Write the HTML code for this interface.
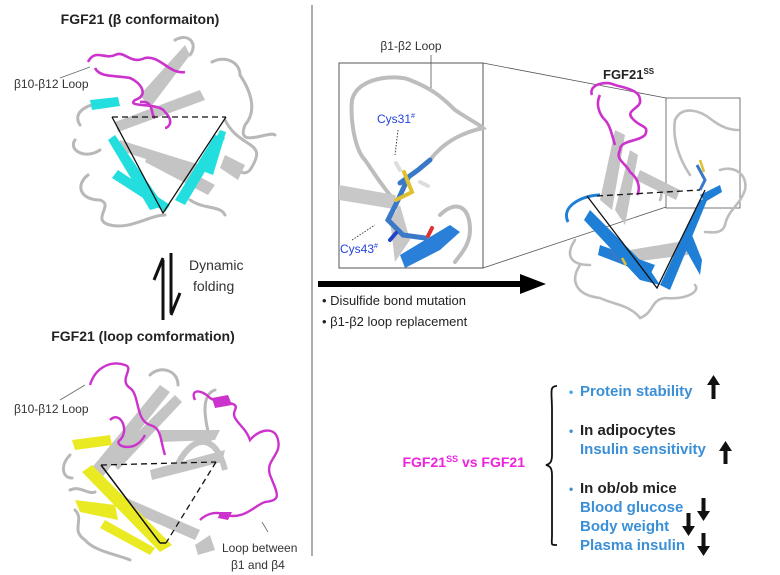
<!DOCTYPE html>
<html><head><meta charset="utf-8"><style>
html,body{margin:0;padding:0;background:#fff;}
svg{display:block;font-family:"Liberation Sans",Arial,sans-serif;}
</style></head><body>
<svg width="780" height="575" viewBox="0 0 780 575" xmlns="http://www.w3.org/2000/svg">
<rect width="780" height="575" fill="#fff"/>
<line x1="312" y1="5" x2="312" y2="556" stroke="#777" stroke-width="1.2"/>

<text x="140" y="24" font-size="14" font-weight="bold" text-anchor="middle" fill="#222">FGF21 (β conformaiton)</text>
<g fill="none" stroke="#b8b8b8" stroke-width="3" stroke-linecap="round">
<path d="M80 125 C70 110 95 100 110 105 M75 140 C68 150 85 160 100 150 M88 175 C75 185 80 200 100 200 C115 205 90 220 110 225 C130 230 150 215 165 215"/>
<path d="M175 40 C190 32 198 45 190 55 M212 62 C225 55 240 62 240 75 C250 90 258 110 245 125 C235 150 270 130 275 135 M225 120 C240 150 270 140 250 170 C240 180 235 160 232 170"/>
<path d="M190 200 C205 210 220 205 225 215"/>
</g>
<g fill="#c4c4c4">
<polygon points="140,95 185,45 190,55 150,108"/>
<polygon points="150,150 215,185 208,195 145,162"/>
<polygon points="115,122 200,90 205,100 118,132"/>
<polygon points="120,140 200,165 195,175 118,150"/>
<polygon points="225,155 245,165 238,180 220,168"/>
</g>
<g fill="#22dede">
<polygon points="90,100 118,97 120,106 92,110"/>
<polygon points="115,135 160,200 168,205 150,210 108,140"/>
<polygon points="118,170 170,205 165,212 112,178"/>
<polygon points="175,200 215,135 225,138 185,205"/>
<polygon points="205,160 220,130 226,132 213,175 200,170"/>
</g>
<path d="M88 62 C95 48 105 60 115 55 C125 50 130 65 145 58 C160 55 170 75 185 72 M95 68 C100 78 115 75 130 78 C140 82 150 95 135 100 C125 108 160 102 165 112 C175 122 168 128 165 128 M140 102 C155 100 150 115 155 118" fill="none" stroke="#cc33cc" stroke-width="2.6"/>
<line x1="60" y1="78" x2="90" y2="67" stroke="#666" stroke-width="0.8"/>
<text x="14" y="88" font-size="12" fill="#333">β10-β12 Loop</text>
<line x1="112" y1="117" x2="226" y2="117" stroke="#111" stroke-width="1.3" stroke-dasharray="6,4"/>
<polyline points="112,117 163,213 226,117" fill="none" stroke="#111" stroke-width="1.3"/>

<path d="M163 260 L163 320" stroke="#111" stroke-width="3"/>
<path d="M163 258 L154 280" stroke="#111" stroke-width="3"/>
<path d="M171 253 L171 313" stroke="#111" stroke-width="3"/>
<path d="M171 315 L180 293" stroke="#111" stroke-width="3"/>
<text x="189" y="270" font-size="14" fill="#333">Dynamic</text>
<text x="193" y="291" font-size="14" fill="#333">folding</text>

<text x="143" y="341" font-size="14" font-weight="bold" text-anchor="middle" fill="#222">FGF21 (loop comformation)</text>
<g fill="none" stroke="#b8b8b8" stroke-width="3" stroke-linecap="round">
<path d="M70 455 C60 465 62 478 72 478 M75 510 C85 520 70 530 85 540 C95 552 120 555 130 560"/>
<path d="M150 375 C160 365 178 370 178 385 M215 390 C200 395 205 420 210 440 M70 490 C80 485 88 495 95 492"/>
</g>
<g fill="#c4c4c4">
<polygon points="90,470 160,385 170,392 100,480"/>
<polygon points="110,460 175,395 182,402 118,470"/>
<polygon points="120,495 200,530 195,540 115,505"/>
<polygon points="150,470 225,450 222,462 152,480"/>
<polygon points="160,430 220,430 215,440 160,442"/>
<polygon points="195,545 210,535 215,550 198,555"/>
<path d="M175 470 C190 435 215 430 225 470" fill="none" stroke="#c4c4c4" stroke-width="6"/>
</g>
<g fill="#eaea22">
<polygon points="92,465 172,545 160,552 82,472"/>
<polygon points="72,440 110,435 112,445 75,450"/>
<polygon points="75,500 115,505 118,520 80,512"/>
<polygon points="105,520 155,548 150,555 100,528"/>
</g>
<path d="M90 385 C95 368 110 360 125 365 C135 368 118 380 130 388 C140 395 135 420 150 425 C162 428 160 440 165 455 M110 420 C120 410 130 430 120 440 C112 445 135 455 145 435 M195 400 C190 390 200 388 210 398 C220 405 240 400 235 410 C230 420 245 425 250 440 C258 430 275 425 278 440 C282 455 265 460 270 475 C278 495 282 500 265 502 C255 505 245 520 225 515 C215 510 205 515 200 520" fill="none" stroke="#cc33cc" stroke-width="2.4"/>
<polygon points="212,398 228,395 232,405 215,408" fill="#cc33cc"/>
<polygon points="220,512 232,512 228,520 218,518" fill="#cc33cc"/>
<line x1="60" y1="400" x2="85" y2="385" stroke="#666" stroke-width="0.8"/>
<text x="14" y="413" font-size="12" fill="#333">β10-β12 Loop</text>
<line x1="101" y1="465" x2="216" y2="462" stroke="#111" stroke-width="1.3" stroke-dasharray="6,4"/>
<line x1="216" y1="462" x2="166" y2="543" stroke="#111" stroke-width="1.3" stroke-dasharray="6,4"/>
<line x1="101" y1="465" x2="160" y2="543" stroke="#111" stroke-width="1.5"/>
<line x1="160" y1="543" x2="166" y2="543" stroke="#111" stroke-width="1.5"/>
<line x1="262" y1="522" x2="268" y2="532" stroke="#666" stroke-width="0.8"/>
<text x="222" y="552" font-size="12" fill="#333">Loop between</text>
<text x="231" y="569" font-size="12" fill="#333">β1 and β4</text>

<text x="411" y="50" font-size="12" text-anchor="middle" fill="#333">β1-β2 Loop</text>
<line x1="431" y1="55" x2="431" y2="88" stroke="#555" stroke-width="0.8"/>
<rect x="339" y="63" width="144" height="205" fill="none" stroke="#555" stroke-width="1"/>
<line x1="483" y1="63" x2="666" y2="98" stroke="#555" stroke-width="0.8"/>
<line x1="483" y1="268" x2="666" y2="207" stroke="#555" stroke-width="0.8"/>
<g fill="none" stroke="#bdbdbd" stroke-width="4" stroke-linecap="round">
<path d="M365 160 C355 150 350 120 352 100 C358 75 400 75 410 80 C430 88 440 95 455 110 C470 120 480 125 483 128 C465 132 445 140 430 160"/>
<path d="M365 160 C372 170 378 180 390 195"/>
<path d="M440 215 C455 200 470 205 470 230 C470 245 460 255 455 262"/>
</g>
<polygon points="339,185 395,195 400,210 339,200" fill="#c8c8c8"/>
<polygon points="400,205 410,240 395,262 390,220" fill="#c8c8c8"/>
<polygon points="400,255 450,225 460,232 440,250 405,268" fill="#2a80d8"/>
<g stroke-linecap="round">
<path d="M400 183 L418 170 L430 160" stroke="#3a78c8" stroke-width="5" fill="none"/>
<path d="M408 178 L398 200 L388 220 L403 235 L425 238" stroke="#3a78c8" stroke-width="5" fill="none"/>
<path d="M404 172 L412 192 L396 200" stroke="#e0c030" stroke-width="4" fill="none"/>
<path d="M428 236 L432 228" stroke="#d33" stroke-width="4"/>
<path d="M396 233 L390 240" stroke="#2244cc" stroke-width="4"/>
<path d="M400 170 L396 163" stroke="#ddd" stroke-width="4"/>
<path d="M420 182 L428 186" stroke="#ddd" stroke-width="4"/>
</g>
<text x="377" y="123" font-size="12" fill="#2244dd">Cys31<tspan font-size="7" dy="-5">#</tspan></text>
<line x1="398" y1="130" x2="395" y2="155" stroke="#444" stroke-width="1" stroke-dasharray="1.5,1.5"/>
<text x="340" y="253" font-size="12" fill="#2244dd">Cys43<tspan font-size="7" dy="-5">#</tspan></text>
<line x1="352" y1="240" x2="375" y2="225" stroke="#444" stroke-width="1" stroke-dasharray="1.5,1.5"/>

<rect x="318" y="281" width="205" height="6" fill="#000"/>
<polygon points="520,274 546,284 520,294" fill="#000"/>
<text x="322" y="305" font-size="13" fill="#222">• Disulfide bond mutation</text>
<text x="322" y="326" font-size="13" fill="#222">• β1-β2 loop replacement</text>

<text x="603" y="79" font-size="13" font-weight="bold" fill="#222">FGF21<tspan font-size="8" dy="-5">SS</tspan></text>
<rect x="666" y="98" width="74" height="110" fill="none" stroke="#555" stroke-width="0.8"/>
<g fill="none" stroke="#bdbdbd" stroke-width="2.6" stroke-linecap="round">
<path d="M690 175 C680 160 672 140 675 120 C682 105 700 110 712 120 C725 130 735 130 738 130"/>
<path d="M720 170 C735 165 748 175 745 190 C740 205 728 210 725 225 C722 235 710 232 705 232"/>
<path d="M575 240 C565 255 570 265 590 265 M580 265 C570 280 575 295 600 298 C615 305 630 305 640 318 C655 312 650 300 665 298 C690 300 700 290 695 285"/>
<path d="M640 175 C655 175 665 190 660 200"/>
</g>
<g fill="#c4c4c4">
<polygon points="600,200 615,130 625,135 612,210"/>
<polygon points="615,210 630,150 638,155 625,225"/>
<polygon points="630,250 690,240 688,255 632,262"/>
<polygon points="640,170 680,190 676,200 636,180"/>
</g>
<g fill="#1f7fd6">
<polygon points="590,210 650,270 660,285 640,280 584,220"/>
<polygon points="600,245 655,265 650,275 598,255"/>
<polygon points="660,285 700,200 708,198 670,290"/>
<polygon points="690,230 702,260 700,275 686,250"/>
<polygon points="700,195 720,185 722,192 705,202"/>
<path d="M600 195 C585 195 560 205 568 222" fill="none" stroke="#1f7fd6" stroke-width="3"/>
</g>
<path d="M592 95 C588 85 605 80 615 85 C625 88 640 90 640 100 C642 108 625 110 632 118 C640 128 650 125 645 135 C638 142 620 140 620 150 C615 160 625 162 630 172 C640 180 640 190 637 195 M600 95 C595 105 600 115 605 120 C610 125 612 135 615 145" fill="none" stroke="#cc33cc" stroke-width="2.6"/>
<path d="M697 165 L705 180 L700 190" stroke="#3a78c8" stroke-width="3" fill="none"/>
<path d="M700 160 L704 172" stroke="#e0c030" stroke-width="2.5"/>
<path d="M610 250 L620 262" stroke="#3a78c8" stroke-width="3"/>
<path d="M622 258 L626 265" stroke="#e0c030" stroke-width="2.5"/>
<line x1="597" y1="196" x2="700" y2="190" stroke="#111" stroke-width="1.3" stroke-dasharray="6,4"/>
<polyline points="587,196 657,288 705,190" fill="none" stroke="#111" stroke-width="1.3"/>

<text x="525" y="467" font-size="14" font-weight="bold" fill="#ee22dd" text-anchor="end">FGF21<tspan font-size="9" dy="-5">SS</tspan><tspan dy="5"> vs FGF21</tspan></text>
<path d="M557 386 C549 386 552 392 552 410 L552 455 C552 462 550 464 546 465 C550 466 552 468 552 475 L552 535 C552 545 550 545 557 545" fill="none" stroke="#111" stroke-width="1.8"/>
<g font-size="15" font-weight="bold">
<text x="569" y="396" fill="#3a8fd6"><tspan fill="#3aa8e8" font-size="12">•</tspan> <tspan x="580">Protein stability</tspan></text>
<text x="569" y="435" fill="#222"><tspan fill="#3a8fd6" font-size="12">•</tspan> <tspan x="580">In adipocytes</tspan></text>
<text x="580" y="454" fill="#3a8fd6">Insulin sensitivity</text>
<text x="569" y="493" fill="#222"><tspan fill="#3a8fd6" font-size="12">•</tspan> <tspan x="580">In ob/ob mice</tspan></text>
<text x="580" y="512" fill="#3a8fd6">Blood glucose</text>
<text x="580" y="531" fill="#3a8fd6">Body weight</text>
<text x="580" y="550" fill="#3a8fd6">Plasma insulin</text>
</g>
<g fill="#111">
<rect x="711.5" y="382" width="4" height="17"/><polygon points="707,385 713.5,375 720,385"/>
<rect x="723.5" y="448" width="4" height="16"/><polygon points="719,451 725.5,441 732,451"/>
<rect x="701.5" y="498" width="4" height="15"/><polygon points="697,511 703.5,521 710,511"/>
<rect x="686.5" y="513" width="4" height="15"/><polygon points="682,526 688.5,536 695,526"/>
<rect x="701.5" y="533" width="4" height="15"/><polygon points="697,546 703.5,556 710,546"/>
</g>
</svg>
</body></html>
